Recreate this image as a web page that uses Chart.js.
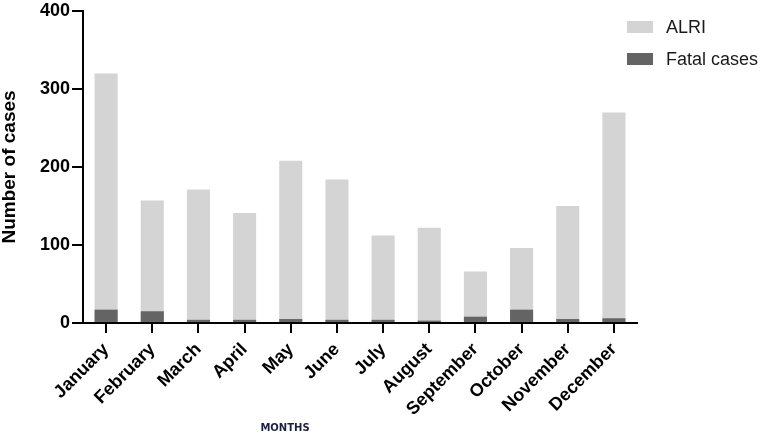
<!DOCTYPE html>
<html>
<head>
<meta charset="utf-8">
<script src="https://cdn.jsdelivr.net/npm/chart.js@4"></script>
<style>
  body { margin: 0; background: #fff; }
  canvas { display: block; }
</style>
</head>
<body>
<canvas id="casesChart" width="765" height="442"></canvas>
<script>
const months = ["January", "February", "March", "April", "May", "June",
    "July", "August", "September", "October", "November", "December"];
const alriCases = [320, 157, 171, 141, 208, 184, 112, 122, 66, 96, 150, 270];
const fatalCases = [17, 15, 4, 4, 5, 4, 4, 3, 8, 17, 5, 6];
const yTicks = [0, 100, 200, 300, 400];

/* legend + MONTHS label drawn by hand, the built-in legend can't overlap the axis */
const sideLegend = {
    id: "sideLegend",
    afterDraw(chart) {
        const ctx = chart.ctx;
        ctx.save();
        chart.data.datasets.forEach((ds, i) => {
            const y = 27 + i * 32;
            ctx.fillStyle = ds.backgroundColor;
            ctx.fillRect(627, y - 6, 26, 12);
            ctx.fillStyle = "#1a1a1a";
            ctx.font = "18px 'Liberation Sans', Arial, sans-serif";
            ctx.textBaseline = "middle";
            ctx.textAlign = "left";
            ctx.fillText(ds.label, 666, y + 1);
        });
        ctx.fillStyle = "#1c2040";
        ctx.font = "bold 10px 'DejaVu Sans', sans-serif";
        ctx.textAlign = "center";
        ctx.textBaseline = "middle";
        ctx.fillText("MONTHS", 285, 428);
        ctx.restore();
    }
};

new Chart(document.getElementById("casesChart"), {
    type: "bar",
    data: {
        labels: months,
        datasets: [
            {
                label: "ALRI",
                data: alriCases,
                backgroundColor: "#d4d4d4",
                order: 1
            },
            {
                label: "Fatal cases",
                data: fatalCases,
                backgroundColor: "#646464",
                order: 0
            }
        ]
    },
    options: {
        responsive: false,
        animation: false,
        layout: { padding: { left: 0, right: 128, top: 0, bottom: 16 } },
        datasets: {
            bar: { categoryPercentage: 1, barPercentage: 0.5 }
        },
        plugins: {
            legend: { display: false },
            tooltip: { enabled: false }
        },
        scales: {
            x: {
                stacked: true,
                border: { display: true, color: "#000", width: 2 },
                grid: {
                    offset: false,
                    drawOnChartArea: false,
                    drawTicks: true,
                    tickLength: 10,
                    color: "#000",
                    lineWidth: 2
                },
                ticks: {
                    color: "#000",
                    maxRotation: 45,
                    minRotation: 45,
                    padding: 6,
                    font: { family: "'Liberation Sans', Arial, sans-serif", size: 18, weight: "bold" }
                }
            },
            y: {
                stacked: false,
                min: 0,
                max: 400,
                afterBuildTicks(scale) {
                    scale.ticks = yTicks.map(v => ({ value: v }));
                },
                border: { display: true, color: "#000", width: 2 },
                grid: {
                    drawOnChartArea: false,
                    drawTicks: true,
                    tickLength: 11,
                    color: "#000",
                    lineWidth: 2
                },
                ticks: {
                    color: "#000",
                    padding: 2,
                    font: { family: "'Liberation Sans', Arial, sans-serif", size: 18, weight: "bold", lineHeight: 1 }
                },
                title: {
                    display: true,
                    text: "Number of cases",
                    color: "#000",
                    padding: { top: 0, bottom: 19 },
                    font: { family: "'Liberation Sans', Arial, sans-serif", size: 19, weight: "bold", lineHeight: 1 }
                }
            }
        }
    },
    plugins: [sideLegend]
});
</script>
</body>
</html>
